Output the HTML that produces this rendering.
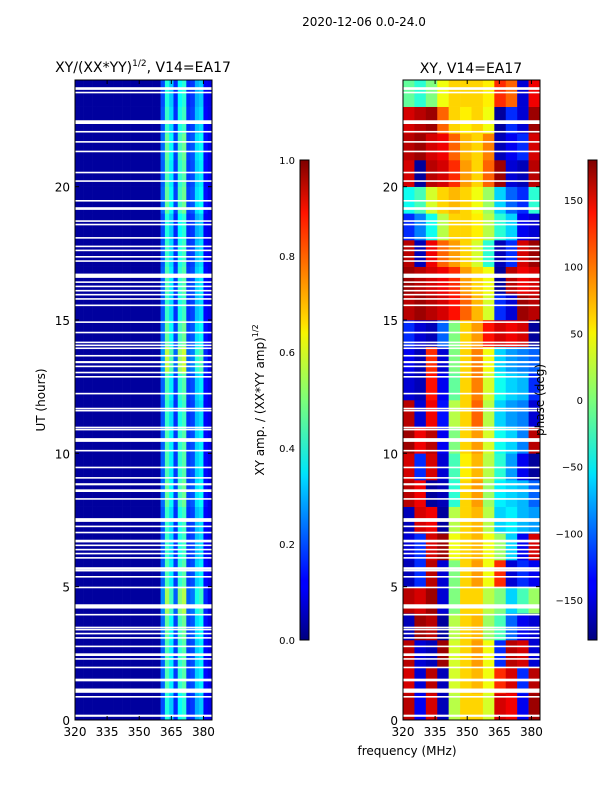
<!DOCTYPE html>
<html><head><meta charset="utf-8">
<style>
html,body{margin:0;padding:0;background:#fff;}
svg{display:block;font-family:"DejaVu Sans","Liberation Sans",sans-serif;}
</style></head>
<body>
<svg id="fig" width="600" height="800" xmlns="http://www.w3.org/2000/svg">
<defs>
<linearGradient id="jet" x1="0" y1="1" x2="0" y2="0">
<stop offset="0" stop-color="#00007f"/><stop offset="0.11" stop-color="#0000ff"/>
<stop offset="0.125" stop-color="#0000ff"/><stop offset="0.34" stop-color="#00dbff"/>
<stop offset="0.35" stop-color="#00e5f7"/><stop offset="0.5" stop-color="#7cff79"/>
<stop offset="0.64" stop-color="#f7f500"/><stop offset="0.66" stop-color="#ffde00"/>
<stop offset="0.89" stop-color="#ff1300"/><stop offset="1" stop-color="#7f0000"/>
</linearGradient>
</defs>
<text x="364" y="26" font-size="12" text-anchor="middle">2020-12-06 0.0-24.0</text>
<text x="143" y="72" font-size="14" text-anchor="middle">XY/(XX*YY)<tspan dy="-6" font-size="9">1/2</tspan><tspan dy="6">, V14=EA17</tspan></text>
<text x="471" y="73" font-size="14" text-anchor="middle">XY, V14=EA17</text>
<g id="ampPlot"></g>
<g id="phPlot"></g>
<g id="axes"></g>
<rect x="300" y="160" width="9" height="480" fill="url(#jet)" stroke="#000" stroke-width="1"/>
<rect x="588" y="160" width="9" height="480" fill="url(#jet)" stroke="#000" stroke-width="1"/>
<text transform="translate(264,400) rotate(-90)" font-size="12" text-anchor="middle">XY amp. / (XX*YY amp)<tspan dy="-6" font-size="8">1/2</tspan></text>
<text transform="translate(544,400) rotate(-90)" font-size="12" text-anchor="middle">phase (deg)</text>
<text transform="translate(45,400) rotate(-90)" font-size="12" text-anchor="middle">UT (hours)</text>
<text x="407" y="755" font-size="12" text-anchor="middle">frequency (MHz)</text>
</svg>
<script>
// amplitude: per-2MHz column profile (320..384) and per-hour band strength
const ampFreqs = [321,323,325,327,329,331,333,335,337,339,341,343,345,347,349,351,353,355,357,359,361,363,365,367,369,371,373,375,377,379,381,383];
const ampProfile = [0.03,0.03,0.03,0.03,0.03,0.03,0.03,0.03,0.03,0.03,0.03,0.03,0.03,0.03,0.03,0.03,0.03,0.03,0.03,0.03,0.22,0.45,0.36,0.18,0.42,0.46,0.18,0.2,0.33,0.36,0.13,0.1];
const ampHourFactor = [0.9,1.0,1.0,1.05,1.2,1.0,0.95,0.95,1.05,1.0,1.0,0.95,1.0,1.25,1.05,0.95,1.0,0.95,0.9,1.05,1.0,1.05,0.95,0.9];
// phase grid: rows hour 0..23, 12 columns of ~5.33 MHz
const phaseRows = [
[160,-140,150,-160,20,60,60,30,150,140,-140,170],
[150,-150,160,-160,30,60,70,40,120,150,-120,160],
[160,-150,-160,170,30,60,80,40,-120,160,150,-150],
[-160,170,160,-170,20,60,70,10,-20,-100,-140,-150],
[160,150,170,-150,0,60,60,20,0,-60,-20,10],
[-160,-120,160,-150,0,60,80,40,120,-150,-120,-140],
[-150,-120,150,170,40,60,70,40,10,-60,-140,150],
[-160,150,140,-170,20,60,70,20,-60,-50,-70,-80],
[160,140,-170,-160,-30,60,80,10,-50,-60,-70,-100],
[150,-120,150,-150,-20,50,70,20,-30,-80,-140,-170],
[170,140,160,-140,0,60,80,30,-40,-60,-90,160],
[160,-150,140,-130,20,60,100,20,-60,-80,-90,-150],
[-150,-160,130,-140,-10,60,90,30,-40,-60,-70,-120],
[-140,-160,120,-150,0,60,90,40,-60,-80,-90,-100],
[-120,-150,-160,-100,0,60,80,130,150,140,150,-170],
[160,170,160,150,130,100,70,30,-120,-150,170,160],
[170,160,150,140,120,80,60,40,-170,160,140,150],
[160,-160,140,100,80,60,30,-30,-160,-120,150,170],
[-120,-90,-40,20,60,60,50,20,-30,-60,-140,-150],
[-40,-20,30,60,70,60,40,10,-60,-100,-120,-30],
[150,-170,160,150,120,80,60,100,170,-150,-160,160],
[160,170,150,140,100,70,60,90,-160,-140,-120,150],
[150,160,170,100,60,50,60,40,-170,-120,-150,170],
[-10,-30,0,40,60,60,60,50,120,100,-150,140]];
// flagged (blank) times: [hour, width in hours]
const gaps = [[23.68,0.1],[23.53,0.06],[22.42,0.14],[22.06,0.06],[21.68,0.06],[21.32,0.06],[20.53,0.06],[20.21,0.06],[19.47,0.06],[19.18,0.1],[18.71,0.06],[18.58,0.06],[18.08,0.06],[17.76,0.06],[17.61,0.06],[17.37,0.06],[17.21,0.06],[16.66,0.16],[16.42,0.06],[16.26,0.06],[16.1,0.06],[15.95,0.06],[15.79,0.06],[15.55,0.06],[14.92,0.06],[14.53,0.06],[14.16,0.06],[14.05,0.06],[13.94,0.06],[13.66,0.06],[13.42,0.08],[13.26,0.06],[13.03,0.06],[12.87,0.06],[12.24,0.06],[11.68,0.06],[11.6,0.06],[10.97,0.06],[10.89,0.06],[10.5,0.14],[10.1,0.06],[9.47,0.06],[9.08,0.06],[8.84,0.08],[8.6,0.1],[8.29,0.06],[7.5,0.14],[7.26,0.06],[7.03,0.06],[6.71,0.1],[6.55,0.06],[6.39,0.06],[6.24,0.06],[6.08,0.06],[5.68,0.1],[5.6,0.06],[5.37,0.06],[4.97,0.06],[4.26,0.16],[3.95,0.06],[3.47,0.06],[3.39,0.06],[3.24,0.06],[3.08,0.06],[2.76,0.06],[2.45,0.1],[2.29,0.06],[1.97,0.06],[1.5,0.1],[1.1,0.16],[0.87,0.06],[0.16,0.08]];
const xTicks = [320,335,350,365,380];
const yTicks = [0,5,10,15,20];
const ampTicks = [0.0,0.2,0.4,0.6,0.8,1.0];
const phaseTicks = [-150,-100,-50,0,50,100,150];

const NS="http://www.w3.org/2000/svg";
const FMIN=320,FMAX=384,TOP=80,BOT=720;
const panels={amp:{x0:75,x1:212},ph:{x0:403,x1:540}};
function xs(p,f){return p.x0+(f-FMIN)/(FMAX-FMIN)*(p.x1-p.x0);}
function ys(h){return BOT-h/24*(BOT-TOP);}
function jet(v){v=Math.max(0,Math.min(1,v));
 const r=Math.max(0,Math.min(1,1.5-Math.abs(4*v-3))),g=Math.max(0,Math.min(1,1.5-Math.abs(4*v-2))),b=Math.max(0,Math.min(1,1.5-Math.abs(4*v-1)));
 return `rgb(${Math.round(r*255)},${Math.round(g*255)},${Math.round(b*255)})`;}
function mk(par,tag,at){const e=document.createElementNS(NS,tag);for(const k in at)e.setAttribute(k,at[k]);par.appendChild(e);return e;}

const ampG=document.getElementById('ampPlot');
for(let h=0;h<24;h++){for(let c=0;c<ampFreqs.length;c++){
 let v=ampProfile[c]; if(v>0.1) v=v*ampHourFactor[h];
 const r=mk(ampG,'rect',{x:xs(panels.amp,ampFreqs[c]-1),y:ys(h+1),width:xs(panels.amp,ampFreqs[c]+1)-xs(panels.amp,ampFreqs[c]-1)+0.3,height:ys(h)-ys(h+1)+0.3,fill:jet(v)});
 
 
}}
const phG=document.getElementById('phPlot');
const pw=(FMAX-FMIN)/12;
for(let h=0;h<24;h++){for(let c=0;c<12;c++){
 const f0=FMIN+c*pw;
 const r=mk(phG,'rect',{x:xs(panels.ph,f0),y:ys(h+1),width:xs(panels.ph,f0+pw)-xs(panels.ph,f0)+0.3,height:ys(h)-ys(h+1)+0.3,fill:jet((phaseRows[h][c]+180)/360)});
 
 
}}
for(const key of ['amp','ph']){const p=panels[key];const g=key==='amp'?ampG:phG;
 for(const [h,w] of gaps){
  const r=mk(g,'rect',{x:p.x0,y:ys(h+w/2),width:p.x1-p.x0,height:Math.max(1.2,ys(h-w/2)-ys(h+w/2)),fill:'#fff'});
  
  
 }}
const ax=document.getElementById('axes');
for(const key of ['amp','ph']){const p=panels[key];
 const fr=mk(ax,'rect',{x:p.x0,y:TOP,width:p.x1-p.x0,height:BOT-TOP,fill:'none',stroke:'#000','stroke-width':1});
 
 
 for(const t of xTicks){const x=xs(p,t);
  mk(ax,'line',{x1:x,x2:x,y1:BOT,y2:BOT-4,stroke:'#000'});mk(ax,'line',{x1:x,x2:x,y1:TOP,y2:TOP+4,stroke:'#000'});
  const tx=mk(ax,'text',{x:x,y:BOT+16,'font-size':12,'text-anchor':'middle'});tx.textContent=t;
  
  }
 for(const t of yTicks){const y=ys(t);
  mk(ax,'line',{x1:p.x0,x2:p.x0+4,y1:y,y2:y,stroke:'#000'});mk(ax,'line',{x1:p.x1,x2:p.x1-4,y1:y,y2:y,stroke:'#000'});
  const tx=mk(ax,'text',{x:p.x0-5,y:y+5,'font-size':12,'text-anchor':'end'});tx.textContent=t;
  
  }
}
for(const t of ampTicks){const y=640-t*480;
 mk(ax,'line',{x1:300,x2:309,y1:y,y2:y,stroke:'#000'});
 const tx=mk(ax,'text',{x:295,y:y+4,'font-size':10,'text-anchor':'end'});tx.textContent=t.toFixed(1);
 
 }
for(const t of phaseTicks){const y=640-(t+180)/360*480;
 mk(ax,'line',{x1:588,x2:597,y1:y,y2:y,stroke:'#000'});
 const tx=mk(ax,'text',{x:583,y:y+4,'font-size':10,'text-anchor':'end'});tx.textContent=(t<0?'\u2212'+(-t):t);
 
 }
</script>
</body></html>
